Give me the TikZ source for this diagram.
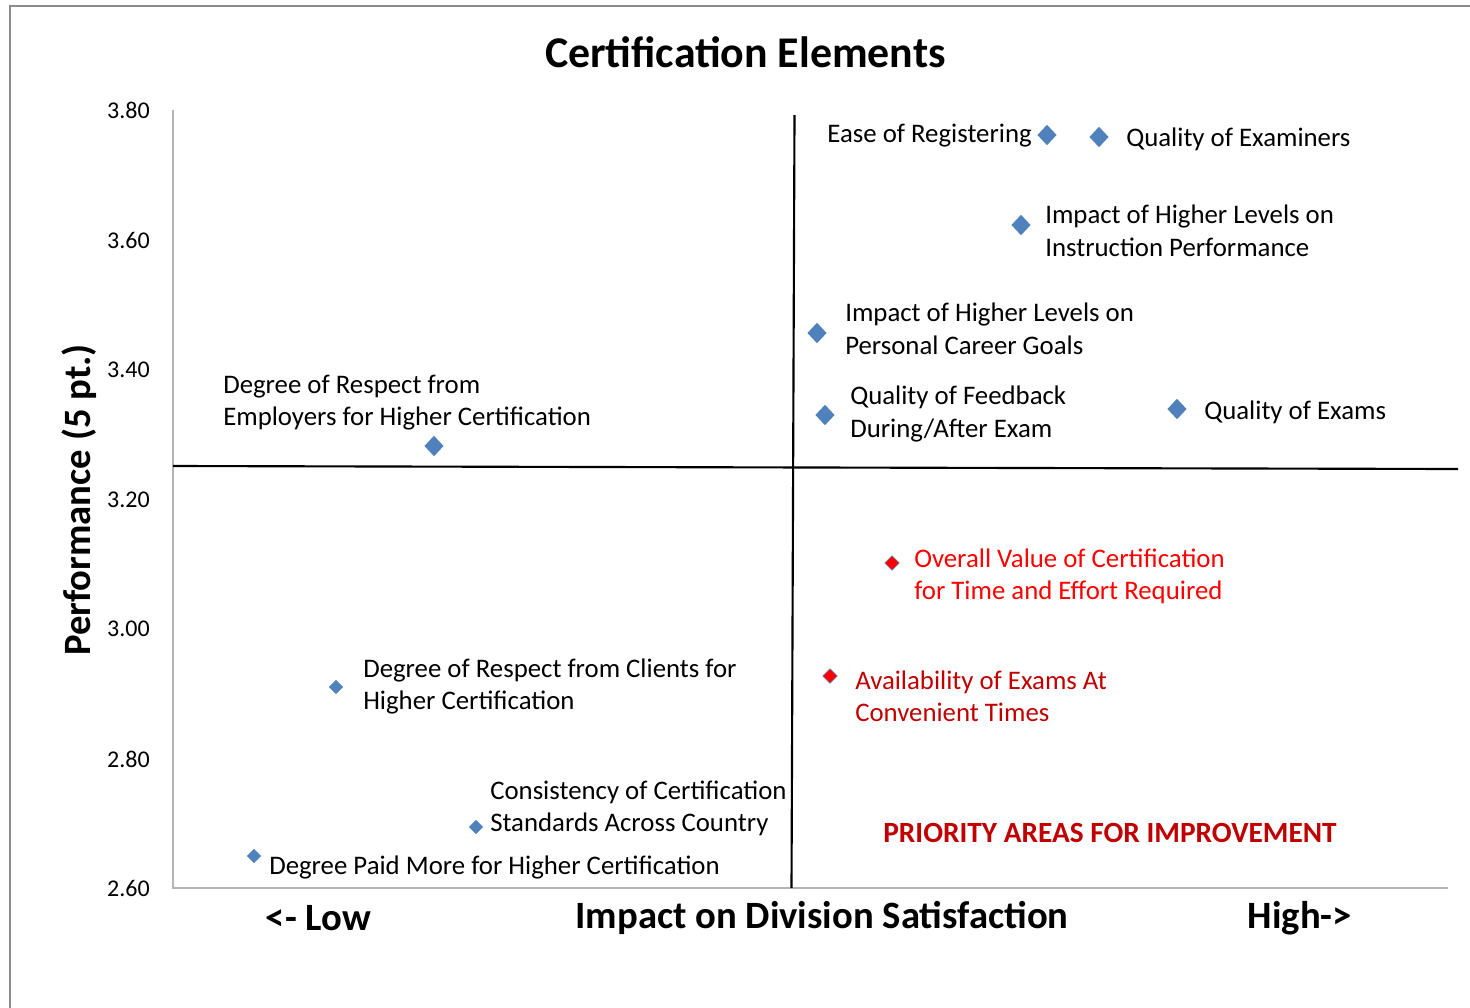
\documentclass[tikz,border=0pt]{standalone}
\usepackage{fontspec}
\setmainfont{Carlito}
\usetikzlibrary{shapes.geometric}
\definecolor{mblue}{HTML}{4F81BD}
\definecolor{dred}{HTML}{C00000}
\definecolor{frame}{HTML}{8C8C8C}
\definecolor{axisg}{HTML}{B4B4B4}
\begin{document}
\begin{tikzpicture}[x=0.75pt,y=-0.75pt,
  lbl/.style={font=\fontsize{20.1}{24.4}\selectfont, inner sep=0pt, align=left, anchor=west},
  tick/.style={font=\fontsize{18}{20}\selectfont, inner sep=0pt, anchor=east},
  bigm/.style={diamond, fill=mblue, inner sep=0pt, minimum width=14.5pt, minimum height=15.5pt},
  smallm/.style={diamond, fill=mblue, inner sep=0pt, minimum width=11pt, minimum height=11pt},
  redm/.style={diamond, fill=red, draw=mblue, line width=0.3pt, inner sep=0pt, minimum width=11pt, minimum height=11pt},
  axt/.style={font=\fontsize{29}{34}\bfseries\selectfont, inner sep=0pt}
]
\useasboundingbox (0,0) rectangle (1470,1007);
% outer frame
\draw[frame, line width=2.2pt] (10,1020) -- (10,6) -- (1480,6);
% title
\node[font=\fontsize{32.9}{40}\bfseries\selectfont, inner sep=0pt] (title) at (745.5,52) {Certification Elements};
% axes
\coordinate (o) at (173,888);
\coordinate (ytop) at (173,110);
\coordinate (xend) at (1448,888);
\draw[axisg, line width=1.2pt] (ytop) -- (o) -- (xend);
% tick labels
\foreach \v/\y in {3.80/110,3.60/240,3.40/370,3.20/500,3.00/629,2.80/759,2.60/888}
  \node[tick] (t\y) at (150,\y) {\v};
% quadrant lines
\coordinate (vt) at (794.5,115);
\coordinate (vb) at (791.5,888);
\coordinate (hl) at (173,466);
\coordinate (hr) at (1458,469);
\draw[black, line width=1.6pt] (vt) -- (vb);
\draw[black, line width=1.6pt] (hl) -- (hr);
% axis titles
\node[axt, rotate=90] (ylab) at (79,500) {Performance (5 pt.)};
\node[axt] (xlab) at (822,918) {Impact on Division Satisfaction};
\node[axt] (low) at (318.5,918) {<- Low};
\node[axt] (high) at (1300,918) {High->};
% markers
\node[bigm] (m1) at (1047,135) {};
\node[bigm] (m2) at (1099,137) {};
\node[bigm] (m3) at (1021,225) {};
\node[bigm] (m4) at (817,333) {};
\node[bigm] (m5) at (825,415) {};
\node[bigm] (m6) at (1177,409) {};
\node[bigm] (m7) at (434,446) {};
\node[smallm] (m8) at (336,687) {};
\node[smallm] (m9) at (476,827) {};
\node[smallm] (m10) at (254,856) {};
\node[redm] (m11) at (892,563) {};
\node[redm] (m12) at (830,676) {};
% labels
\node[lbl, anchor=east] (l1) at (1032,136) {Ease of Registering};
\node[lbl] (l2) at (1126,139) {Quality of Examiners};
\node[lbl] (l3) at (1045,231) {Impact of Higher Levels on\\Instruction Performance};
\node[lbl] (l4) at (845,329) {Impact of Higher Levels on\\Personal Career Goals};
\node[lbl] (l5) at (850,414) {Quality of Feedback\\During/After Exam};
\node[lbl] (l6) at (1204,412) {Quality of Exams};
\node[lbl] (l7) at (223,402.5) {Degree of Respect from\\Employers for Higher Certification};
\node[lbl] (l8) at (363,686.5) {Degree of Respect from Clients for\\Higher Certification};
\node[lbl] (l9) at (490,808.5) {Consistency of Certification\\Standards Across Country};
\node[lbl] (l10) at (269,867) {Degree Paid More for Higher Certification};
\node[lbl, text=red] (l11) at (914,576.5) {Overall Value of Certification\\for Time and Effort Required};
\node[lbl, text=dred] (l12) at (855,696.5) {Availability of Exams At\\Convenient Times};
\node[font=\fontsize{22}{26}\bfseries\selectfont, text=dred, inner sep=0pt] (prio) at (1110,833) {PRIORITY AREAS FOR IMPROVEMENT};
\end{tikzpicture}
\end{document}
